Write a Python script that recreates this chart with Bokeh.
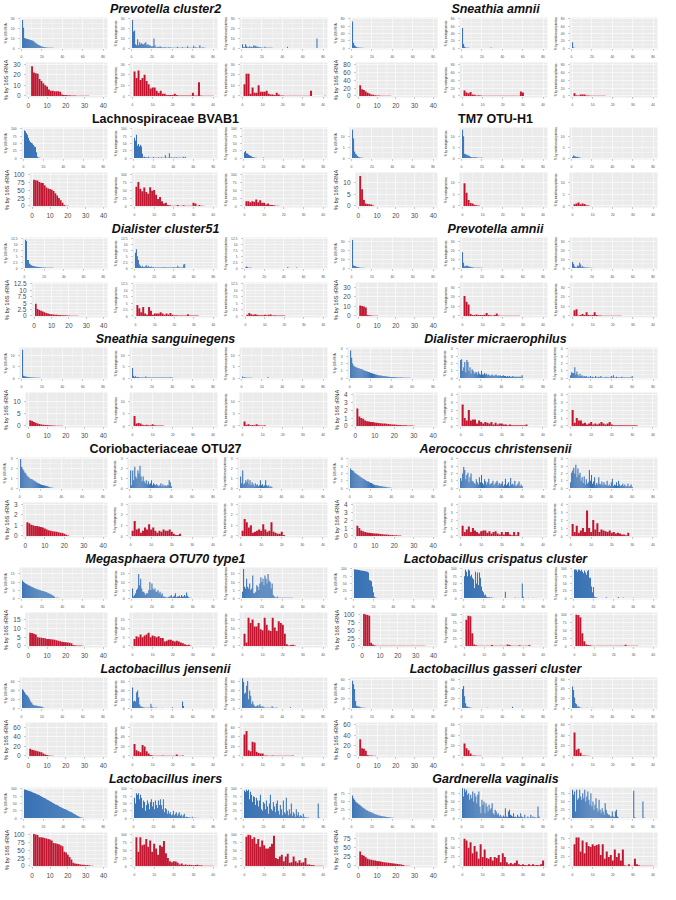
from bokeh.plotting import figure
from bokeh.layouts import column, row
from bokeh.models import FixedTicker
from bokeh.core.properties import value
from bokeh.embed import file_html
from bokeh.resources import INLINE

# ---------------- data ----------------
titles = ["Prevotella cluster2", "Sneathia amnii", "Lachnospiraceae BVAB1", "TM7 OTU-H1",
          "Dialister cluster51", "Prevotella amnii", "Sneathia sanguinegens", "Dialister micraerophilus",
          "Coriobacteriaceae OTU27", "Aerococcus christensenii", "Megasphaera OTU70 type1",
          "Lactobacillus crispatus cluster", "Lactobacillus jensenii", "Lactobacillus gasseri cluster",
          "Lactobacillus iners", "Gardnerella vaginalis"]
italic = [True, True, False, False, True, True, True, True, False, True, True, True, True, True, True, True]
y_max = [31.5, 84, 105, 14, 13, 35, 13.5, 4.2, 3.15, 4.2, 19, 105, 70, 64, 105, 92]
y_ticks = [[0, 10, 20, 30], [0, 20, 40, 60, 80], [0, 25, 50, 75, 100], [0, 5, 10],
           [0, 2.5, 5, 7.5, 10, 12.5], [0, 10, 20, 30], [0, 5, 10], [0, 1, 2, 3, 4],
           [0, 1, 2, 3], [0, 1, 2, 3, 4], [0, 5, 10, 15], [0, 25, 50, 75, 100],
           [0, 20, 40, 60], [0, 20, 40, 60], [0, 25, 50, 75, 100], [0, 25, 50, 75]]
blue_x_ticks = [0, 20, 40, 60, 80]
red_x_ticks = [0, 10, 20, 30, 40]
y_labels = ["% by 16S rRNA", "% by metagenomics", "% by metatranscriptomics"]

# 1 Prevotella cluster2
p1_b16 = [29, 21, 10.5, 10, 9.7, 9.4, 9, 8.7, 8.3, 8, 7.5, 7, 6, 5.2, 4.5, 3.8, 3.2, 2.6, 2.1, 1.7, 1.4, 1.1, 0.9, 0.7, 0.6, 0.5, 0.45, 0.4, 0.35, 0.3, 0.3, 0.25, 0.25, 0.2, 0.2, 0.2, 0.15, 0.15, 0.15, 0.1, 0.1, 0.1, 0.1, 0.1, 0.1, 0.1, 0.1, 0.1, 0.1, 0.1, 0.1, 0.1, 0.1, 0.1, 0.1, 0.1, 0.1, 0.1, 0.1, 0.1]
p1_bmg = [29, 17, 18, 4, 3, 9, 3, 6, 4, 5, 4, 4, 5, 6, 3, 4, 3, 3, 2, 2, 2, 10, 3, 1, 1, 1.5, 1, 2, 1, 1, 0.5, 1, 1, 0.5, 0.5, 1, 0.5, 1, 0.5, 0.5, 0.5, 0.5, 0.5, 0.5, 1.5, 0.5, 0.5, 0.5, 0.5, 1, 0.5, 0.5, 0.5, 0.5, 2, 0.5, 0.5, 0.5, 0.5, 0.5, 2.5, 0.5, 1, 0.5, 0.5, 0.5, 3, 0.5, 0.5, 1, 0.5, 0.5]
p1_bmt = [4, 1, 1, 4, 2, 1, 1, 2, 1, 1.5, 1, 3, 2, 2.5, 1.5, 1.5, 1, 1, 1, 0.5, 0.3, 0.5, 1.5, 0.3, 0.3, 0.3, 0.3, 0.3, 0.3, 0.3] + [0] * 14 + [1.5] + [0] * 28 + [10]
p1_r16 = [0, 28, 22, 21.5, 21, 16, 14, 12, 10, 9, 6, 5, 5, 4.5, 4.5, 4.5, 4, 1.5, 1, 1, 0.7, 0.6, 0.5, 0.4, 0.35, 0.3, 0.3, 0.25, 0.2, 0.2, 0.15, 0.15, 0.1, 0.1, 0.1, 0.1]
p1_rmg = [23, 17, 24, 15, 17, 20, 14, 11, 7, 8, 8, 5, 3, 5, 2, 2, 1, 1, 1, 1, 2, 1, 0.5, 0.5, 0.5, 0.5, 0.5, 0.5, 0.5, 3, 0.5, 0.5, 13, 0.5, 0.3, 0.3, 0.3, 0.3, 0.3, 0.3]
p1_rmt = [11, 21, 21, 2, 8, 3, 3, 10, 4, 4, 4, 5, 2, 1.5, 1.5, 1, 3, 1.5, 0.5, 0.5, 0.3, 0.3, 0.3, 0.3, 0.3, 0.3, 0.3, 0.3, 0.3, 0.3, 0.3, 0.3, 0.3, 5, 0, 0, 0, 0, 0, 0, 0.3]

# 2 Sneathia amnii
p2_b16 = [73, 15, 8, 5, 3, 2, 1.5, 1.2, 1, 0.8, 0.7, 0.6, 0.5, 0.45, 0.4, 0.35, 0.3, 0.3, 0.25, 0.25, 0.2, 0.2, 0.2, 0.15, 0.15, 0.15, 0.1, 0.1]
p2_bmg = [55, 11, 4, 2, 1, 1, 0.8, 0.6, 0.5, 0.5, 0.4, 0.4, 0.3, 0.3, 0.3, 0.3, 0.3, 0.3, 0.3, 0.3, 0.3, 0.3, 0.3, 0.3, 0.3, 0.3, 0.3, 0.3, 1.5, 0.3, 0.3, 0.3, 0.3, 0.3, 0.3, 0.3, 0.3, 0.3, 0.3, 0.3, 0.3, 0.5]
p2_bmt = [16, 2, 1, 0.5, 0.5, 0.4, 0.4, 0.3, 0.3, 0.3, 0.3, 0.3, 0.2, 0.2, 0.2]
p2_r16 = [27, 17, 15, 11, 8, 6, 4, 3, 2, 1.5, 1, 0.8, 0.6, 0.5, 0.4, 0.35, 0.3, 0.25, 0.2, 0.2]
p2_rmg = [14, 9, 7, 10, 4, 3, 1, 2, 1, 0.8, 0.6, 0.5, 0.5, 0.5, 0.5, 0.5, 0.5, 0.5, 0.5, 0.5, 0.5, 0.5, 0.5, 0.5, 0.5, 0.5, 0.5, 0.5, 11, 9]
p2_rmt = [7, 2, 1, 4, 4, 4, 1, 1, 0.6, 0.5, 0.5, 0.4, 0.4, 0.3, 0.3, 0.3]

# 3 Lachnospiraceae BVAB1
p3_b16 = [95, 92, 85, 80, 70, 60, 55, 52, 50, 45, 40, 38, 20, 5, 2, 1, 0.5, 0.3, 0.3, 0.2]
p3_bmg = [70, 60, 80, 42, 48, 40, 45, 40, 15, 3, 5, 3, 2, 2, 5, 1, 1, 1, 1, 4, 1, 1, 1, 1, 3, 1, 1, 3, 1, 1, 1, 10, 1, 1, 1, 17, 1, 3, 1, 1, 3, 1, 3, 1, 1, 2, 1, 1, 1, 5, 1, 5]
p3_bmt = [20, 24, 17, 15, 12, 10, 8, 6, 4, 3, 2, 1, 1, 0.5, 0.5, 0.5, 0.5, 0.5, 0.5, 2]
p3_r16 = [82, 81, 80, 75, 73, 72, 65, 58, 55, 53, 51, 47, 40, 33, 25, 18, 10, 3, 1, 1]
p3_rmg = [60, 75, 54, 46, 58, 44, 38, 59, 48, 50, 35, 22, 28, 15, 8, 10, 3, 2, 1, 1, 1, 3, 1, 1, 2, 1, 1, 1, 1, 10, 8, 1, 3, 1, 1]
p3_rmt = [15, 15, 12, 15, 13, 20, 12, 18, 10, 10, 5, 8, 3, 3, 2, 1, 0.5]

# 4 TM7 OTU-H1
p4_b16 = [13, 9, 3, 2, 1.5, 1, 0.5, 0.4, 0.3, 0.2, 0.2, 0.1]
p4_bmg = [13, 10, 2, 1.8, 1.5, 1.3, 1.2, 1, 0.5, 0.5, 0.3, 0.5, 0.3, 0.5, 0.3, 0.2, 0.2, 0.2, 0.2, 0.3]
p4_bmt = [0.5, 1.2, 0.8, 0.7, 0.5, 0.6, 0.4, 0.3, 0.2]
p4_r16 = [12.5, 7, 2.5, 1, 0.8, 0.7, 0.6, 0.2]
p4_rmg = [9.5, 5.5, 2.5, 1.2, 1, 0.5, 0.3, 0.2]
p4_rmt = [0.7, 1, 1.5, 0.7, 1, 0.8, 0.3, 0.2]

# 5 Dialister cluster51
p5_b16 = [12, 11.5, 3.5, 3.5, 2, 1.5, 1.2, 1, 0.9, 0.8, 0.7, 0.6, 0.55, 0.5, 0.45, 0.4, 0.35, 0.3, 0.28, 0.25, 0.22, 0.2, 0.18, 0.16, 0.15, 0.14, 0.13, 0.12, 0.11, 0.1, 0.1, 0.1, 0.1, 0.1, 0.1, 0.1, 0.1, 0.1, 0.1, 0.1, 0.1, 0.1, 0.1, 0.1, 0.1]
p5_bmg = [6.5, 8, 5, 3.5, 1.5, 1, 0.5, 1, 0.5, 0.5, 0.8, 1.2, 0.5, 1, 0.5, 0.5, 0.7, 0.3, 0.5, 0.3, 0.3, 0.3, 0.3, 0.3, 0.3, 0.3, 0.3, 0.3, 0.3, 0.5, 0.3, 0.3, 0.3, 0.3, 0.3, 0.3, 0.3, 0.3, 0.3, 0.5, 0.3, 0.3, 0.3, 1, 0.3, 0.3, 0.3, 0.3, 0.3, 1.5, 1.8]
p5_bmt = [0.3, 0.7, 0.5, 0.2, 0.3, 0.2, 0.2, 0.1, 0.1, 0.1] + [0] * 33 + [0.5] + [0] * 8 + [0.3]
p5_r16 = [4.8, 2.7, 2.3, 2, 1.7, 1.5, 1.2, 1, 0.8, 0.7, 0.6, 0.5, 0.45, 0.4, 0.35, 0.3, 0.28, 0.25, 0.2, 0.15, 0.12, 0.1, 0.1, 0.08, 0.08]
p5_rmg = [4.3, 3, 1.5, 3.5, 1, 0.5, 3.5, 2, 0.5, 1, 1, 1, 1.5, 1, 0.5, 1, 0.6, 1.2, 0.5, 0.3, 0.3, 0.2, 0.2, 0.2, 0.2, 0.2, 0.7, 0.2, 0.2, 0.2, 0.2, 0.2]
p5_rmt = [0.5, 1.2, 0.7, 0.5, 0.7, 0.5, 0.3, 0.3, 0.3, 0.5, 0.3, 0.5, 0.6, 0.2, 0.3, 0.2, 0.2, 0.2, 0.2, 0.2]

# 6 Prevotella amnii
p6_b16 = [32, 3, 2.5, 2, 1.5, 1.2, 1, 0.8, 0.5, 0.4, 0.3, 0.3, 0.2, 0.2, 0.15]
p6_bmg = [18, 6, 2, 2, 3, 2.5, 2, 1.5, 1.5, 1, 1, 0.5, 0.5, 0.4, 0.3, 0.3, 0.3, 0.3, 0.3, 0.3]
p6_bmt = [7, 5, 2, 1, 1, 3, 2.5, 6, 4, 1, 2, 1, 1, 0.5, 1, 0.3, 0.3, 0.3, 0.5, 0.5]
p6_r16 = [11, 10.5, 10, 9, 1, 0.8, 0.5, 0.3, 0.2, 0.2, 0.1]
p6_rmg = [21, 15, 12, 2, 1, 1, 1.5, 1, 1, 1, 1.2, 3, 1, 0.8, 0.6, 1, 2.5, 0.5, 0.3, 0.3, 0.3, 0.3, 0.3, 0.3, 0.3, 0.3, 0.3, 0.3]
p6_rmt = [6, 7, 0.5, 1, 2, 1, 4, 1, 0.8, 1, 4, 1, 0.5, 0.5, 0.3, 0.3, 0.3, 0.3, 0.3, 0.3, 0.3, 0.3, 0.3, 0.3]

# 7 Sneathia sanguinegens
p7_b16 = [12.5, 1, 0.8, 0.7, 0.6, 0.5, 0.45, 0.4, 0.35, 0.3, 0.3, 0.25, 0.25, 0.2, 0.2, 0.2, 0.15, 0.15, 0.1, 0.1, 0.1, 0.1, 0.1, 0.1, 0.1]
p7_bmg = [4.5, 1, 0.5, 0.8, 0.4, 0.5, 0.5, 0.3, 0.3, 0.3, 0.3, 0.3, 0.3, 0.7, 0.3, 0.3, 0.3, 0.3, 0.3, 0.3, 0.3, 0.3, 0.3, 0.3, 0.3, 0.3, 0.3, 0.3, 0.3, 0.3, 0.3, 0.3, 0.3, 0.3, 0.3, 0.3, 0.3, 0.3, 0.3, 0.3]
p7_bmt = [0.7, 0.3, 0.4, 0.3, 0.2, 0.2, 0.2, 0.2, 0.2, 0.2] + [0] * 15 + [0.5]
p7_r16 = [2.3, 2, 1.6, 1.3, 1, 0.8, 0.6, 0.5, 0.4, 0.35, 0.3, 0.25, 0.2, 0.15, 0.12, 0.1, 0.1, 0.08]
p7_rmg = [4, 1, 1.2, 1, 0.5, 0.3, 0.5, 0.3, 0.3, 0.7, 0.3, 0.2, 0.2, 0.2, 0.2]
p7_rmt = [1.8, 0.5, 0.7, 0.3, 0.4, 0.3, 0.7, 0.3, 0.2, 0.2, 0.3]

# 8 Dialister micraerophilus
p8_b16 = [3.8, 2.8, 2.0, 1.7, 1.6, 1.5, 1.45, 1.4, 1.35, 1.3, 1.25, 1.2, 1.1, 1.05, 1.0, 0.95, 0.9, 0.85, 0.8, 0.75, 0.7, 0.65, 0.6, 0.55, 0.5, 0.45, 0.42, 0.4, 0.37, 0.35, 0.32, 0.3, 0.28, 0.26, 0.24, 0.22, 0.2, 0.18, 0.16, 0.15, 0.14, 0.13, 0.12, 0.11, 0.1, 0.1, 0.09, 0.08, 0.08, 0.07, 0.07, 0.06, 0.06, 0.05, 0.05, 0.05, 0.04, 0.04]
p8_bmg = [2.5, 2.6, 1, 1.5, 2.2, 0.8, 2.5, 2.2, 1, 1.5, 0.6, 1.2, 1, 0.6, 0.8, 0.8, 0.5, 0.9, 0.6, 0.5, 1, 0.5, 0.5, 0.7, 0.5, 0.6, 0.4, 0.5, 0.4, 0.3, 0.5, 0.4, 0.3, 0.4, 0.5, 0.3, 0.4, 0.3, 0.4, 0.3, 0.3, 0.4, 0.3, 0.3, 0.2, 0.3, 0.2, 0.3, 0.2, 0.2, 0.3, 0.2, 0.2, 0.2, 0.2, 0.2, 0.2, 0.2, 0.2, 0.4]
p8_bmt = [0.4, 0.8, 0.7, 0.7, 1.5, 0.5, 0.9, 0.5, 0.3, 0.6, 0.3, 0.4, 0.2, 0.3, 0.2, 0.3, 0.1, 0.2, 0.1, 0.3, 0.1, 0.2, 0.1, 0.1, 0.3, 0.1, 0.1, 0.2, 0.1, 0.3, 0.1, 0.1, 0.1, 0.1, 0.2, 0.1, 0.1, 0.1, 0.1, 0.3, 0.1, 0.4, 0.1, 0.1, 0.2, 0.1, 0.1, 0.1, 0.1, 0.2, 0.1, 0.1, 0.1, 0.1, 0.1, 0.1, 0.1, 0.1, 0.1, 0.3]
p8_r16 = [2.2, 1.2, 1, 0.9, 0.7, 0.6, 0.55, 0.5, 0.5, 0.45, 0.4, 0.38, 0.35, 0.32, 0.3, 0.28, 0.25, 0.23, 0.2, 0.18, 0.15, 0.13, 0.12, 0.1, 0.1, 0.08, 0.07, 0.06, 0.05, 0.04]
p8_rmg = [2.7, 1, 0.7, 2, 0.7, 0.8, 0.8, 0.3, 0.7, 0.5, 0.3, 0.5, 0.4, 0.3, 0.5, 0.2, 0.4, 0.2, 0.3, 0.3, 0.2, 0.2, 0.1, 0.2, 0.1, 0.1, 0.1, 0.1, 0.1, 0.1, 0.1, 0.2]
p8_rmt = [2, 0.4, 1, 0.7, 0.7, 0.3, 0.4, 0.2, 0.3, 0.5, 0.2, 0.3, 0.2, 0.3, 0.5, 0.3, 0.2, 0.3, 0.5, 0.2, 0.1, 0.1, 0.1, 0.1, 0.1, 0.1, 0.1, 0.1, 0.1, 0.1, 0.1, 0.1]

# 9 Coriobacteriaceae OTU27
p9_b16 = [3, 2.2, 2.0, 1.8, 1.6, 1.5, 1.3, 1.2, 1.1, 1.0, 0.95, 0.9, 0.8, 0.75, 0.7, 0.6, 0.55, 0.5, 0.45, 0.4, 0.35, 0.32, 0.3, 0.28, 0.25, 0.22, 0.2, 0.15, 0.1, 0.08, 0.05, 0.04]
p9_bmg = [1.8, 0.3, 1.8, 0.8, 2.2, 1.2, 1, 1.8, 1.5, 2.3, 1.2, 0.7, 1.2, 0.7, 0.5, 0.8, 0.4, 0.7, 0.4, 0.5, 0.8, 0.3, 0.5, 0.4, 0.3, 0.4, 0.3, 0.2, 0.3, 0.5, 0.2, 0.4, 0.2, 0.3, 0.2, 0.3, 0.3, 0.8, 0.6, 0.2]
p9_bmt = [1.2, 0.5, 1.8, 0.4, 0.5, 0.8, 0.6, 0.9, 0.4, 0.8, 0.3, 0.6, 0.4, 0.2, 0.5, 0.3, 0.4, 0.2, 0.3, 0.8, 0.3, 0.4, 0.2, 0.3, 0.8, 0.3, 0.2, 0.3, 0.1, 0.2, 0.1]
p9_r16 = [1.3, 1.2, 1.05, 1.0, 0.95, 0.95, 0.9, 0.85, 0.8, 0.7, 0.6, 0.55, 0.5, 0.45, 0.42, 0.4, 0.35, 0.3, 0.28, 0.2, 0.12, 0.05]
p9_rmg = [0.5, 1.4, 0.6, 0.7, 0.3, 0.5, 0.8, 0.6, 1.1, 0.6, 0.8, 0.5, 0.3, 0.5, 0.4, 0.6, 0.5, 0.5, 0.6, 0.4, 0.2, 0.1, 0.1, 0.2]
p9_rmt = [0.5, 1.6, 1.3, 0.8, 1.0, 0.3, 0.4, 0.5, 0.6, 0.5, 1.1, 0.6, 0.4, 0.5, 1.3, 0.4, 0.3, 0.2, 0.2, 0.4, 0.1]

# 10 Aerococcus christensenii
p10_b16 = [2.7, 2.5, 2.4, 2.3, 2.1, 2.0, 1.9, 1.8, 1.7, 1.6, 1.5, 1.4, 1.3, 1.2, 1.1, 1.0, 0.95, 0.9, 0.8, 0.75, 0.7, 0.6, 0.5, 0.45, 0.4, 0.38, 0.35, 0.32, 0.3, 0.28, 0.25, 0.22, 0.2, 0.18, 0.15, 0.12, 0.1, 0.08, 0.06, 0.05]
p10_bmg = [1.4, 1.0, 2.0, 2.9, 2.5, 1.2, 1.8, 2.1, 0.8, 1.5, 2.0, 1.0, 0.9, 0.7, 0.5, 1.2, 0.8, 0.5, 1.5, 0.8, 1.8, 0.7, 0.5, 1.2, 0.9, 0.5, 0.8, 1.3, 0.5, 0.6, 0.7, 1.0, 0.4, 0.6, 0.8, 1.0, 0.4, 0.7, 0.5, 0.6, 0.9, 0.3, 0.5, 1.3, 0.4, 0.6, 0.8, 0.3, 1.4, 0.5, 0.6, 0.4, 1.0, 0.3, 0.4, 0.6, 0.9, 0.3, 0.5, 0.3]
p10_bmt = [0.8, 2.1, 2.4, 2.8, 2.0, 3.2, 1.5, 2.7, 1.8, 2.1, 1.0, 1.5, 0.7, 1.6, 0.5, 1.2, 0.6, 0.8, 2.5, 1.0, 1.8, 0.6, 0.9, 1.5, 0.4, 0.7, 0.5, 1.5, 0.6, 0.5, 0.9, 0.4, 0.8, 0.5, 0.4, 1.0, 0.3, 0.5, 0.3, 0.8, 1.3, 0.3, 0.5, 0.4, 0.8, 0.3, 1.0, 0.5, 0.3, 0.4, 0.6, 0.3, 0.5, 0.2, 0.3, 0.6, 0.2, 0.3, 0.5, 0.2]
p10_r16 = [1.3, 1.0, 0.7, 0.6, 0.5, 0.45, 0.4, 0.38, 0.35, 0.32, 0.3, 0.28, 0.25, 0.22, 0.2, 0.18, 0.15, 0.13, 0.12, 0.1, 0.08, 0.06, 0.05]
p10_rmg = [1.3, 0.5, 0.8, 1.2, 0.5, 1.0, 0.7, 0.5, 0.3, 0.6, 0.7, 0.7, 0.4, 0.6, 0.3, 0.5, 0.6, 0.3, 0.2, 0.5, 0.2, 0.5, 0.5, 0.2, 0.1, 0.5, 0.1, 0.5]
p10_rmt = [1.5, 0.5, 1.3, 0.4, 0.7, 1.0, 0.5, 3.2, 1.0, 0.5, 2.0, 0.8, 1.6, 0.5, 0.8, 0.7, 0.6, 0.5, 0.7, 0.4, 0.5, 0.3, 0.4, 0.3, 0.2, 0.2, 0.1, 0.4]

# 11 Megasphaera OTU70 type1
p11_b16 = [11, 10, 9.5, 9, 8.7, 8.3, 8, 7.6, 7.3, 7, 6.7, 6.4, 6.1, 5.8, 5.6, 5.4, 5.2, 5, 4.8, 4.6, 4.4, 4.2, 4, 3.8, 3.5, 3.2, 2.9, 2.6, 2.3, 2, 1.5, 1, 0.3, 0.2, 0.2, 0.2, 0.15, 0.15, 0.15, 0.1, 0.1, 0.1, 0.1, 0.1, 0.1, 0.1, 0.1, 0.1, 0.1, 0.1]
p11_bmg = [6, 1, 2, 3, 5, 6, 15, 8, 12, 6, 4, 4, 3, 2, 3, 3, 5, 10, 5, 9, 6, 5, 6, 4, 4, 5, 3, 4, 2, 3, 1, 1, 0.5, 0.5, 0.3, 0.5, 1, 1, 2, 0.5, 1, 1.5, 3, 0.5, 1, 1, 1.5, 0.5, 2, 1, 1, 2, 1, 3.5, 1.5, 0.5, 0.3, 0.2]
p11_bmt = [4, 18, 7, 6, 12, 7, 6, 9, 5, 6, 14, 3, 3, 4, 8, 7, 5, 9, 13, 10, 12, 8, 14, 12, 9, 15, 11, 10, 6, 9, 2, 1, 0.5, 0.3, 1, 0.3, 0.3, 0.3, 0.3, 0.3, 0.3, 0.3, 0.3, 0.3, 0.3, 0.3, 0.3, 0.3, 0.3, 0.3]
p11_r16 = [7.5, 7.3, 7, 6.5, 5, 4.8, 4.7, 4.5, 4.4, 4, 3.9, 3.8, 3.7, 3.5, 3.2, 3, 2.7, 2.4, 2.3, 2.1, 2, 1.8, 1.5, 0.5, 0.4, 0.3, 0.3, 0.3, 0.2]
p11_rmg = [4, 5.5, 5, 6.5, 5, 6, 6.5, 7.5, 5, 6, 5.5, 5, 5.5, 4.5, 4.5, 2.5, 3, 3.5, 3.5, 3, 2.5, 3, 2.5, 2, 1.5, 1, 0.5, 0.7, 0.2]
p11_rmt = [7, 2, 16, 13, 15, 11, 11, 13, 9.5, 9, 16, 12, 9, 8.5, 16, 10.5, 8.5, 14, 13, 12, 7, 1, 0.3, 0.5, 0.7, 0.3]

# 12 Lactobacillus crispatus cluster
p12_b16 = [99, 98, 97, 97, 96, 96, 95, 95, 94, 94, 93, 92, 91, 90, 88, 62, 60, 58, 40, 20, 5, 2, 1, 0.8, 0.6, 0.5, 0.5, 0.4, 0.4, 0.4, 0.3, 0.3, 0.3, 0.3, 0.3, 0.3, 0.3, 0.3, 0.3, 0.3, 0.3, 0.3, 0.3, 0.3, 0.3, 0.3, 0.3, 0.3, 0.3, 0.3]
p12_bmg = [75, 97, 90, 75, 98, 95, 75, 80, 70, 65, 35, 90, 50, 88, 45, 88, 70, 40, 25, 20, 10, 12, 5, 3, 2, 4, 1, 2, 1, 1, 0.5, 0.5, 0.5, 0.5, 0.5, 0.5, 0.5, 0.5, 0.5, 0.5, 0.5, 22, 0.5, 0.5, 0.5, 0.5, 0.5, 0.5, 0.5, 0.5, 0.5, 2, 0.5, 0.5, 1, 0.5, 0.5, 0.5, 50, 5, 0.5, 0.5, 0.5, 0.5, 1, 0.5, 0.5, 0.5, 0.5, 1]
p12_bmt = [98, 98, 97, 90, 98, 97, 93, 97, 90, 85, 95, 88, 80, 92, 96, 70, 70, 40, 20, 38, 5, 3, 2, 1, 0.5, 0.5, 0.5, 0.5, 0.5, 0.5, 0.5, 0.5, 3, 0.5, 0.5, 0.5, 0.5, 0.5, 0.5, 0.5, 0.5, 0.5, 0.5, 0.5, 4, 0.5, 0.5, 0.5, 0.5, 2, 0.5, 0.5, 0.5, 0.5, 0.5, 0.5, 0.5, 0.5, 0.5, 1]
p12_r16 = [100, 99, 97, 95, 10, 5, 2, 1, 0.8, 0.6, 0.5, 0.5, 0.5, 0.5, 0.5, 0.5, 0.5, 0.5, 0.5, 0.5, 0.5, 0.5, 0.5, 0.5, 0.5, 0.5, 0.5, 0.5, 0.5, 0.5, 0.5, 0.5, 0.5, 0.5, 0.5]
p12_rmg = [82, 95, 93, 40, 5, 2, 1, 0.5, 0.5, 0.5, 0.5, 0.5, 0.5, 3, 0.5, 0.5, 0.5, 0.5, 0.5, 0.5, 0.5, 5, 3, 0.5, 0.5, 0.5, 0.5, 2, 0.5, 0.5, 0.5, 0.5, 3]
p12_rmt = [98, 97, 90, 40, 15, 5, 3, 2, 0.5, 0.5, 0.5, 1, 0.5, 0.5, 1, 0.5, 0.5, 0.5, 0.5, 0.5, 0.5, 0.5, 0.5, 0.5, 0.5, 4, 0.5, 0.5, 0.5, 0.5, 0.5, 1]

# 13 Lactobacillus jensenii
p13_b16 = [43, 40, 36, 33, 30, 28, 25, 20, 15, 12, 8, 7, 6, 6, 5.5, 5, 4.5, 4, 3.5, 3, 2, 1, 0.5, 0.3, 0.3, 0.2]
p13_bmg = [47, 15, 17, 15, 36, 40, 25, 8, 4, 3, 2, 2, 1, 1, 1, 1, 1, 1, 10, 3, 1, 1, 1, 1, 1, 0.5, 0.5, 0.5, 0.5, 1, 0.5, 0.5, 0.5, 0.5, 0.5, 0.5, 0.5, 0.5, 0.5, 2, 0.5, 0.5, 0.5, 0.5, 0.5, 0.5, 0.5, 0.5, 0.5, 15, 5]
p13_bmt = [68, 60, 33, 35, 51, 62, 20, 40, 28, 10, 15, 8, 5, 3, 5, 7, 3, 9, 5, 2, 4, 2, 1, 1, 1, 1, 1, 1, 1, 4, 1, 1, 1, 1, 1, 0.5, 0.5, 0.5, 0.5, 0.5, 0.5, 0.5, 0.5, 0.5, 0.5, 0.5, 0.5, 2]
p13_r16 = [15, 13, 12, 11, 10, 9, 8, 5, 3, 2, 1, 0.5, 0.3, 0.2]
p13_rmg = [25, 12, 10, 8, 23, 20, 10, 5, 2, 1, 0.5, 0.5, 0.5, 0.5, 1, 0.5, 0.5, 0.5, 0.5, 0.5, 0.5, 3, 0.5, 0.5, 1]
p13_rmt = [45, 52, 12, 10, 30, 28, 9, 6, 5, 5, 1, 1, 0.5, 0.5, 1, 0.5, 0.5, 0.5, 0.5, 0.5, 0.5, 0.5, 0.5, 0.5, 1]

# 14 Lactobacillus gasseri cluster
p14_b16 = [57, 50, 40, 15, 5, 4, 3.5, 3, 2, 1.5, 1, 0.8, 0.6, 0.5, 0.4, 0.4, 0.3, 0.3, 0.3, 0.3]
p14_bmg = [40, 46, 25, 10, 4, 3, 2, 2, 1, 1, 0.5, 0.5, 0.5, 0.5, 0.5, 0.5, 0.5, 0.5, 0.5, 1, 0.5, 0.5, 0.5, 0.5, 1] + [0] * 24 + [3]
p14_bmt = [45, 38, 22, 10, 8, 3, 4, 2, 1, 1, 0.5, 0.5, 0.5, 0.5, 1, 0.5, 0.5, 0.5, 0.5, 1]
p14_r16 = [32, 15, 14, 10, 2, 1, 0.8, 0.5, 0.3, 0.2]
p14_rmg = [24, 15, 11, 5, 1, 1, 0.5, 0.3, 0.3, 0.2]
p14_rmt = [45, 12, 14, 6, 1, 1, 0.5, 0.3, 0.2, 0.2, 0.2, 0.2, 0.2, 0.2, 0.2, 0.2, 0.2, 0.2, 0.2, 0.2]

# 15 Lactobacillus iners
p15_b16 = [98, 97, 96, 95, 94, 93, 91, 90, 89, 87, 86, 84, 83, 81, 80, 78, 76, 74, 72, 71, 69, 67, 65, 63, 61, 59, 57, 55, 53, 51, 49, 47, 46, 44, 42, 40, 38, 36, 35, 33, 31, 30, 29, 27, 25, 23, 22, 20, 18, 16, 14, 12, 10, 8, 6, 5, 3, 2, 1.5, 1, 0.8, 0.5, 0.4, 0.3, 0.3]
p15_bmg = [70, 50, 85, 80, 85, 65, 80, 70, 35, 60, 55, 25, 45, 60, 50, 30, 55, 65, 40, 55, 30, 60, 45, 35, 60, 45, 65, 45, 30, 65, 20, 35, 30, 15, 25, 15, 20, 10, 12, 25, 10, 15, 20, 8, 15, 20, 8, 12, 5, 10, 15, 3, 5, 4, 2, 3, 1, 1, 5, 1, 0.5, 2, 0.5, 0.5, 1, 0.5, 0.5, 0.5, 0.5, 0.5, 0.5, 0.5, 0.5, 0.5, 0.5, 0.5, 0.5, 1]
p15_bmt = [95, 90, 97, 93, 97, 65, 90, 80, 55, 75, 72, 45, 70, 60, 40, 60, 80, 30, 25, 55, 50, 30, 60, 40, 15, 50, 80, 30, 25, 55, 40, 20, 50, 60, 25, 12, 45, 30, 10, 60, 20, 15, 70, 25, 10, 30, 15, 50, 8, 20, 15, 5, 30, 10, 20, 5, 10, 8, 3, 15, 5, 2, 3, 1, 2] + [0] * 9 + [50, 2]
p15_r16 = [100, 99, 97, 90, 90, 89, 88, 86, 85, 83, 80, 72, 71, 70, 68, 65, 62, 45, 42, 35, 28, 20, 10, 8, 7, 6, 5, 4, 4, 3, 3, 2.5, 1, 0.5, 0.3]
p15_rmg = [90, 45, 90, 65, 67, 85, 60, 80, 45, 70, 55, 35, 65, 60, 78, 40, 25, 15, 12, 15, 14, 10, 5, 8, 3, 5, 3, 4, 3, 2, 3, 4, 2, 2, 1, 0.5, 0.5, 1, 0.5, 1]
p15_rmt = [92, 98, 96, 85, 90, 70, 85, 60, 80, 65, 55, 55, 60, 70, 95, 25, 22, 30, 35, 15, 30, 38, 10, 12, 30, 15, 10, 18, 10, 12, 25, 5, 5, 3, 3, 0.5, 0.5, 1, 0.5, 1]

# 16 Gardnerella vaginalis
p16_b16 = [68, 60, 55, 50, 47, 45, 42, 40, 37, 35, 32, 30, 28, 25, 24, 22, 20, 19, 18, 17, 15, 14, 12, 11, 10, 9, 8, 7, 6, 5.5, 5, 4.5, 4, 3.5, 3, 2.5, 2, 1.5, 1.2, 1, 0.8, 0.6, 0.5, 0.4, 0.3, 0.3]
p16_bmg = [90, 65, 88, 80, 85, 70, 75, 55, 70, 60, 80, 50, 75, 65, 45, 70, 80, 35, 15, 55, 40, 50, 15, 45, 35, 20, 40, 25, 30, 45, 15, 10, 25, 20, 10, 15, 5, 10, 5, 3, 8, 4, 30, 5, 3, 20, 25, 10, 8, 5, 15, 3, 5, 2, 10, 5, 3, 15, 5, 3, 1, 10, 1, 1, 5, 1, 1, 10, 1, 5, 1, 3, 1, 1, 35, 5]
p16_bmt = [85, 70, 80, 20, 85, 55, 60, 85, 65, 55, 75, 60, 85, 50, 65, 80, 55, 40, 75, 35, 50, 25, 40, 60, 30, 20, 55, 25, 15, 30, 20, 10, 45, 25, 15, 10, 10, 5, 5, 20, 5, 3, 20, 25, 5, 2, 0.5, 0.5, 0.5, 1, 0.5, 0.5, 0.5, 0.5, 1, 0.5, 0.5, 0.5, 0.5, 0.5, 82, 3, 0.5, 0.5, 0.5, 0.5, 0.5, 0.5, 0.5, 50, 2]
p16_r16 = [40, 30, 28, 24, 20, 18, 17, 16, 15, 14, 13, 12, 11, 10, 9.5, 9, 8, 7.5, 7, 6, 5.5, 5, 4, 3, 1, 0.8, 0.5, 0.3, 0.3, 0.2]
p16_rmg = [75, 70, 50, 65, 35, 55, 40, 20, 60, 25, 45, 22, 20, 25, 15, 25, 22, 30, 10, 35, 25, 10, 5, 8, 5, 8, 15, 5, 3, 5, 3, 2, 5, 2, 5, 2, 3, 2, 5, 15]
p16_rmt = [60, 78, 78, 40, 70, 35, 65, 55, 52, 60, 55, 58, 60, 30, 60, 20, 40, 25, 30, 15, 45, 25, 35, 15, 45, 2, 1, 5, 1, 1, 20, 5, 2, 1, 0.5, 0.5, 0.5, 0.5, 0.5, 1]

series = [
    (p1_b16, p1_bmg, p1_bmt, p1_r16, p1_rmg, p1_rmt),
    (p2_b16, p2_bmg, p2_bmt, p2_r16, p2_rmg, p2_rmt),
    (p3_b16, p3_bmg, p3_bmt, p3_r16, p3_rmg, p3_rmt),
    (p4_b16, p4_bmg, p4_bmt, p4_r16, p4_rmg, p4_rmt),
    (p5_b16, p5_bmg, p5_bmt, p5_r16, p5_rmg, p5_rmt),
    (p6_b16, p6_bmg, p6_bmt, p6_r16, p6_rmg, p6_rmt),
    (p7_b16, p7_bmg, p7_bmt, p7_r16, p7_rmg, p7_rmt),
    (p8_b16, p8_bmg, p8_bmt, p8_r16, p8_rmg, p8_rmt),
    (p9_b16, p9_bmg, p9_bmt, p9_r16, p9_rmg, p9_rmt),
    (p10_b16, p10_bmg, p10_bmt, p10_r16, p10_rmg, p10_rmt),
    (p11_b16, p11_bmg, p11_bmt, p11_r16, p11_rmg, p11_rmt),
    (p12_b16, p12_bmg, p12_bmt, p12_r16, p12_rmg, p12_rmt),
    (p13_b16, p13_bmg, p13_bmt, p13_r16, p13_rmg, p13_rmt),
    (p14_b16, p14_bmg, p14_bmt, p14_r16, p14_rmg, p14_rmt),
    (p15_b16, p15_bmg, p15_bmt, p15_r16, p15_rmg, p15_rmt),
    (p16_b16, p16_bmg, p16_bmt, p16_r16, p16_rmg, p16_rmt),
]

# ---------------- styling ----------------
BLUE = "#2A68B0"
RED = "#C0142E"
FONT = "Liberation Sans"
PANEL_W = 330
SUB_W = 110
TITLE_H = 16
BLUE_H = 44
RED_H = 50


def minors(ticks):
    return [(a + b) / 2 for a, b in zip(ticks[:-1], ticks[1:])]


def make_fig(vals, color, xr, xt, ymax, yt, ylab, big, height, top, bottom):
    p = figure(width=SUB_W, height=height, x_range=xr, y_range=(-0.045 * ymax, ymax),
               output_backend="svg", toolbar_location=None, tools="")
    p.min_border_left = 10
    p.min_border_right = 3
    p.min_border_top = top
    p.min_border_bottom = bottom
    p.background_fill_color = "#EBEBEB"
    p.border_fill_color = "white"
    p.outline_line_color = None
    xs = list(range(1, len(vals) + 1))
    p.vbar(x=xs, top=vals, width=1, bottom=0, fill_color=color, line_color="white",
           line_width=0.25, line_alpha=0.2)
    p.xaxis.ticker = FixedTicker(ticks=xt, minor_ticks=minors(xt))
    p.yaxis.ticker = FixedTicker(ticks=yt, minor_ticks=minors(yt))
    for g in (p.xgrid, p.ygrid):
        g.grid_line_color = "white"
        g.grid_line_width = 0.6
        g.minor_grid_line_color = "white"
        g.minor_grid_line_width = 0.3
    fs = "6.5px" if big else "3.3px"
    for ax in (p.xaxis, p.yaxis):
        ax.axis_line_color = None
        ax.major_tick_line_color = "#333333"
        ax.major_tick_line_width = 0.5
        ax.major_tick_in = 0
        ax.major_tick_out = 1
        ax.minor_tick_line_color = None
        ax.major_label_text_font = FONT
        ax.major_label_text_font_size = fs
        ax.major_label_text_color = "#4D4D4D"
        ax.major_label_standoff = 1
    p.yaxis.axis_label = ylab
    p.yaxis.axis_label_text_font = FONT
    p.yaxis.axis_label_text_font_style = "normal"
    p.yaxis.axis_label_text_font_size = "5.8px" if big else "2.9px"
    p.yaxis.axis_label_text_color = "#222222"
    p.yaxis.axis_label_standoff = 1
    return p


def make_title(i):
    t = figure(width=PANEL_W, height=TITLE_H, x_range=(0, 1), y_range=(0, 1),
               output_backend="svg", toolbar_location=None, tools="")
    t.min_border = 0
    t.min_border_left = t.min_border_right = t.min_border_top = t.min_border_bottom = 0
    t.outline_line_color = None
    t.axis.visible = False
    t.grid.visible = False
    t.background_fill_color = "white"
    t.text(x=[0.5], y=[0.5], text=[titles[i]], text_align="center", text_baseline="middle",
           text_font=value(FONT), text_font_size="12.5px",
           text_font_style="bold italic" if italic[i] else "bold", text_color="#111111")
    return t


def make_panel(i):
    b16, bmg, bmt, r16, rmg, rmt = series[i]
    ym, yt = y_max[i], y_ticks[i]
    blues = [make_fig(v, BLUE, (-2, 84.3), blue_x_ticks, ym, yt, lab, False, BLUE_H, 1, 5)
             for v, lab in zip((b16, bmg, bmt), y_labels)]
    reds = [make_fig(v, RED, (-1.5, 42.2), red_x_ticks, ym, yt, lab, k == 0, RED_H, 2, 10)
            for k, (v, lab) in enumerate(zip((r16, rmg, rmt), y_labels))]
    return column(make_title(i), row(*blues), row(*reds))


rows = []
for r in range(8):
    rows.append(row(make_panel(2 * r), make_panel(2 * r + 1)))
layout = column(*rows)

open("out.html", "w").write(file_html(layout, INLINE))
